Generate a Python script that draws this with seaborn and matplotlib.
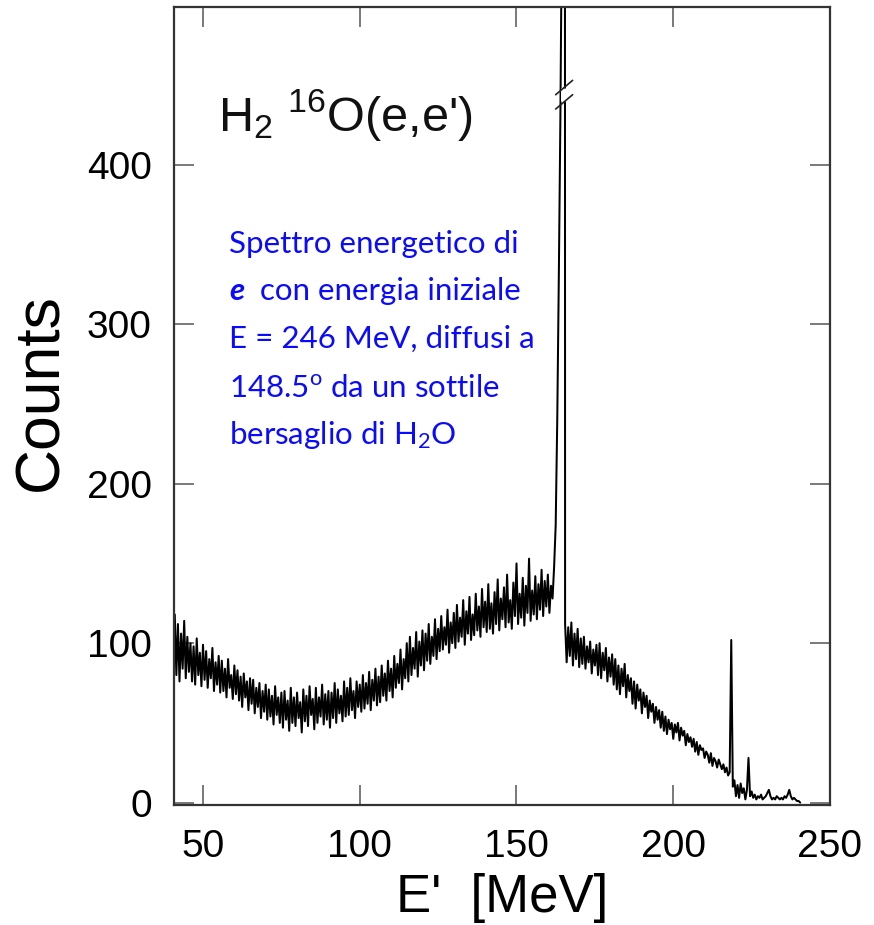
import numpy as np
import pandas as pd
import matplotlib
matplotlib.use("Agg")
import matplotlib.pyplot as plt
import seaborn as sns

# spectrum: 0.5 MeV bins starting at 41 MeV
E_START = 41.0
E_STEP = 0.5
counts = [
    118, 80, 112, 76, 106, 84, 114, 78, 104, 82,      # 41
    100, 76, 98, 74, 103, 80, 94, 73, 99, 77,         # 46
    95, 72, 90, 78, 97, 70, 88, 74, 92, 69,           # 51
    89, 70, 84, 66, 90, 72, 80, 65, 86, 68,           # 56
    83, 64, 79, 60, 81, 66, 76, 58, 78, 62,           # 61
    77, 56, 72, 60, 75, 53, 70, 57, 74, 52,           # 66
    71, 54, 67, 49, 73, 55, 66, 50, 69, 47,           # 71
    70, 52, 64, 45, 72, 50, 66, 48, 69, 53,           # 76
    63, 44, 71, 51, 67, 48, 73, 55, 65, 46,           # 81
    72, 50, 66, 54, 74, 49, 68, 52, 70, 47,           # 86
    69, 53, 75, 50, 71, 56, 67, 51, 76, 54,           # 91
    72, 55, 78, 58, 70, 53, 76, 60, 74, 57,           # 96
    80, 59, 75, 62, 82, 58, 77, 64, 84, 61,           # 101
    79, 63, 86, 67, 81, 64, 89, 70, 84, 66,           # 106
    92, 72, 87, 75, 96, 71, 90, 78, 100, 76,          # 111
    104, 80, 97, 84, 107, 79, 101, 86, 108, 83,       # 116
    106, 89, 112, 87, 104, 92, 115, 90, 109, 95,      # 121
    117, 96, 110, 99, 121, 94, 113, 100, 119, 97,     # 126
    124, 101, 116, 104, 127, 99, 120, 106, 129, 102,  # 131
    118, 105, 131, 108, 123, 104, 134, 110, 126, 107, # 136
    137, 109, 125, 106, 132, 112, 140, 108, 128, 115, # 141
    135, 110, 143, 113, 127, 109, 138, 117, 150, 112, # 146
    131, 116, 141, 111, 136, 119, 153, 114, 133, 118, # 151
    142, 115, 137, 121, 146, 117, 139, 123, 143, 119, # 156
    136, 128, 148, 174, 240, 330, 430, 560, 5000, 112,  # 161 (elastic peak)
    88, 110, 92, 113, 86, 106, 90, 109, 85, 103,      # 166
    87, 104, 84, 98, 88, 101, 81, 96, 86, 99,         # 171
    80, 100, 78, 94, 83, 97, 76, 91, 79, 93,          # 176
    74, 90, 71, 86, 68, 84, 73, 87, 66, 80,           # 181
    70, 78, 62, 76, 59, 74, 64, 71, 56, 69,           # 186
    60, 67, 53, 64, 57, 62, 50, 60, 52, 58,           # 191
    47, 57, 45, 54, 43, 52, 46, 50, 40, 49,           # 196
    44, 50, 39, 47, 42, 45, 36, 43, 38, 41,           # 201
    35, 40, 32, 38, 30, 36, 33, 34, 28, 32,           # 206
    30, 25, 31, 23, 28, 26, 22, 27, 24, 21,           # 211
    24, 19, 22, 17, 19, 102, 10, 14, 4, 11,           # 216
    3, 12, 6, 9, 2, 8, 28, 4, 7, 3,                   # 221
    5, 2, 4, 3, 5, 2, 3, 4, 6, 8,                     # 226
    4, 2, 3, 2, 4, 3, 2, 3, 2, 4,                     # 231
    3, 5, 8, 4, 2, 3, 2, 1, 1, 0,                     # 236
]
energy = E_START + E_STEP * np.arange(len(counts))

x_ticks = [50, 100, 150, 200, 250]
y_ticks = [0, 100, 200, 300, 400]
BREAK_Y = 444

title_text = "H$_2$ $^{16}$O(e,e')"
note_lines = [
    "Spettro energetico di",
    None,  # "e  con energia iniziale" is built from two pieces
    "E = 246 MeV, diffusi a",
    "148.5$^{o}$ da un sottile",
    "bersaglio di H$_2$O",
]
BLUE = "#0a0aff"

sns.set_theme(style="ticks")
plt.rcParams.update({
    "font.family": ["Liberation Sans", "DejaVu Sans"],
    "mathtext.default": "regular",
    "axes.edgecolor": "#333333",
    "axes.linewidth": 1.6,
    "text.color": "black",
    "axes.labelcolor": "black",
})

df = pd.DataFrame({"E": energy, "Counts": counts})

fig = plt.figure(figsize=(8.74, 9.25), dpi=100)
W, H = 874, 925
ax = fig.add_axes([174 / W, 1 - 805 / H, (830 - 174) / W, (805 - 7) / H])

sns.lineplot(data=df, x="E", y="Counts", ax=ax, color="black", lw=1.45,
             estimator=None, sort=False)

ax.set_xlim(40.75, 250)
ax.set_ylim(-1.5, 499)
ax.set_xticks(x_ticks)
ax.set_yticks(y_ticks)
ax.tick_params(direction="in", length=14.5, width=1.1, color="#555555",
               top=True, right=True, labelsize=28, labelcolor="black")
ax.tick_params(axis="y", pad=16)
ax.tick_params(axis="x", pad=17)
ax.set_xlabel("E'  [MeV]", fontsize=38, labelpad=6)
ax.set_ylabel("Counts", fontsize=45)
ax.yaxis.set_label_coords(-0.158, 0.518)

# axis break on the elastic peak
peak_x = energy[int(np.argmax(counts))] + 0.2
ax.plot([peak_x, peak_x], [BREAK_Y - 4, BREAK_Y + 4], color="white", lw=5,
        solid_capstyle="butt", zorder=4)
for dy in (-4.5, 4.5):
    ax.plot([peak_x - 2.7, peak_x + 2.7], [BREAK_Y + dy - 4.5, BREAK_Y + dy + 4.5],
            color="#222222", lw=1.2, zorder=5)

fig.text(218 / W, 1 - 131 / H, title_text, fontsize=35, va="baseline",
         ha="left", color="#111111")

# blue note, one text per line
note_font = ["Lato", "DejaVu Sans"]
NOTE_SIZE = 22.5
base_y = [253, 300, 348, 397, 444]
for line, py in zip(note_lines, base_y):
    if line is None:
        t_e = fig.text(229 / W, 1 - py / H, "e", fontsize=NOTE_SIZE, family=note_font,
                       weight="bold", style="italic", color=BLUE, va="baseline")
        ax.annotate("  con energia iniziale", xy=(1, 0), xycoords=t_e,
                    va="bottom", ha="left", fontsize=NOTE_SIZE, family=note_font,
                    color=BLUE, annotation_clip=False)
    else:
        fig.text(229 / W, 1 - py / H, line, fontsize=NOTE_SIZE, family=note_font,
                 color=BLUE, va="baseline", ha="left")

fig.savefig("out.png", dpi=100, facecolor="white")
